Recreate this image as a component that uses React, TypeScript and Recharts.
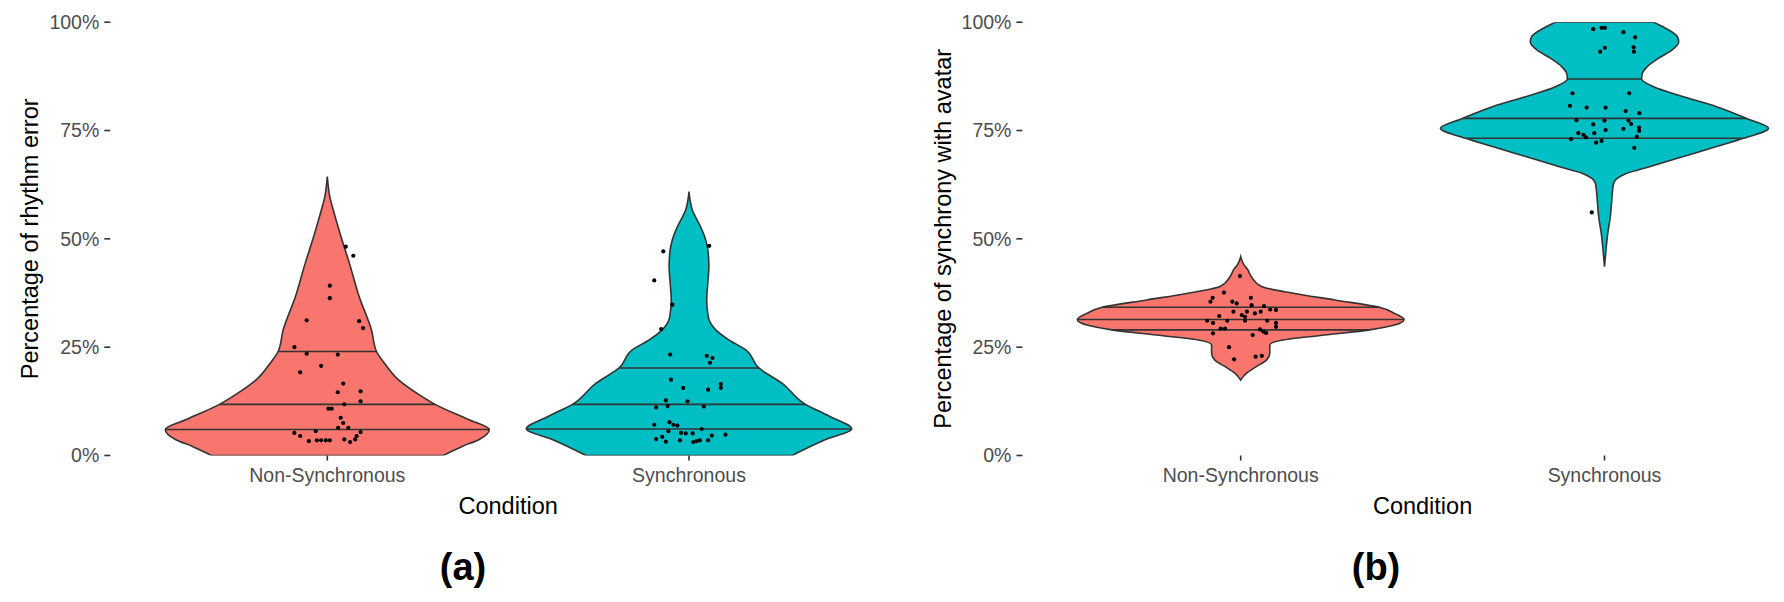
import { ScatterChart, Scatter, XAxis, YAxis, Curve } from "recharts";

const conditions = ["Non-Synchronous", "Synchronous"];
const yTicks = [0, 0.25, 0.5, 0.75, 1];

const RED = "#F8766D";
const TEAL = "#00BFC4";
const INK = "#333333";

// (a) rhythm error – violin outline: level -> half width (category units)
const errNonSyncLevels = [0.644, 0.597, 0.559, 0.502, 0.444, 0.367, 0.29, 0.24, 0.214, 0.175, 0.137, 0.118, 0.083, 0.06, 0.037, 0.021, 0];
const errNonSyncWidths = [0, 0.007, 0.019, 0.039, 0.061, 0.088, 0.122, 0.136, 0.157, 0.196, 0.26, 0.298, 0.39, 0.448, 0.42, 0.373, 0.32];
const errNonSyncQuant = [0.24, 0.118, 0.06];
const errNonSyncQuantW = [0.136, 0.298, 0.448];
const errNonSyncJitter = [0.051, 0.072, 0.007, 0.007, -0.057, 0.088, 0.099, -0.091, -0.057, 0.029, -0.075, -0.017, 0.044, 0.029, 0.092, 0.092, 0.047, 0.003, 0.012, 0.037, 0.044, 0.03, 0.058, 0.092, -0.091, -0.075, -0.032, -0.051, -0.029, -0.017, -0.004, 0.007, 0.047, 0.063, 0.077, 0.081];
const errNonSyncValues = [0.482, 0.461, 0.392, 0.363, 0.312, 0.31, 0.294, 0.25, 0.235, 0.233, 0.192, 0.207, 0.166, 0.146, 0.148, 0.125, 0.118, 0.108, 0.108, 0.087, 0.075, 0.064, 0.064, 0.054, 0.052, 0.045, 0.056, 0.033, 0.035, 0.035, 0.035, 0.035, 0.037, 0.031, 0.037, 0.045];

const errSyncLevels = [0.609, 0.567, 0.528, 0.498, 0.475, 0.436, 0.398, 0.359, 0.321, 0.29, 0.267, 0.244, 0.202, 0.167, 0.118, 0.091, 0.061, 0.037, 0];
const errSyncWidths = [0, 0.009, 0.032, 0.046, 0.052, 0.055, 0.052, 0.049, 0.053, 0.074, 0.11, 0.157, 0.193, 0.257, 0.322, 0.387, 0.45, 0.378, 0.285];
const errSyncQuant = [0.202, 0.118, 0.061];
const errSyncQuantW = [0.193, 0.322, 0.45];
const errSyncJitter = [-0.071, 0.056, -0.096, -0.046, -0.077, -0.052, 0.049, 0.065, 0.058, -0.05, -0.016, 0.053, 0.088, 0.088, -0.064, -0.004, -0.091, -0.059, 0.041, -0.096, -0.054, -0.043, -0.032, 0.035, -0.057, -0.022, 0.01, 0.063, 0.101, -0.091, -0.074, -0.064, -0.025, 0.012, 0.021, 0.03, 0.053, -0.009];
const errSyncValues = [0.471, 0.484, 0.404, 0.348, 0.292, 0.233, 0.23, 0.225, 0.214, 0.175, 0.156, 0.152, 0.165, 0.156, 0.127, 0.125, 0.111, 0.114, 0.113, 0.071, 0.077, 0.071, 0.069, 0.061, 0.056, 0.052, 0.051, 0.046, 0.048, 0.038, 0.043, 0.032, 0.035, 0.031, 0.033, 0.035, 0.035, 0.051];

// (b) synchrony with avatar
const synNonSyncLevels = [0.459, 0.443, 0.428, 0.413, 0.39, 0.374, 0.359, 0.342, 0.328, 0.314, 0.301, 0.29, 0.278, 0.266, 0.255, 0.236, 0.22, 0.205, 0.19, 0.174];
const synNonSyncWidths = [0, 0.007, 0.02, 0.029, 0.057, 0.148, 0.258, 0.381, 0.423, 0.449, 0.423, 0.354, 0.231, 0.112, 0.08, 0.08, 0.071, 0.043, 0.016, 0];
const synNonSyncQuant = [0.342, 0.314, 0.29];
const synNonSyncQuantW = [0.381, 0.449, 0.354];
const synNonSyncJitter = [-0.002, -0.077, -0.046, -0.083, -0.023, -0.011, 0.028, 0.03, 0.064, 0.097, 0.055, -0.02, 0.017, 0.003, -0.059, 0.081, -0.092, -0.076, -0.037, 0.012, 0.073, 0.097, 0.097, -0.055, -0.043, 0.053, 0.062, -0.076, 0.033, 0.07, -0.032, -0.018, 0.041, 0.058, 0.039, 0.012];
const synNonSyncValues = [0.414, 0.364, 0.376, 0.355, 0.355, 0.351, 0.364, 0.347, 0.345, 0.336, 0.332, 0.332, 0.332, 0.324, 0.322, 0.337, 0.311, 0.306, 0.311, 0.311, 0.311, 0.306, 0.297, 0.293, 0.293, 0.291, 0.286, 0.282, 0.278, 0.283, 0.25, 0.222, 0.228, 0.23, 0.328, 0.32];

const synSyncLevels = [1, 0.99, 0.967, 0.955, 0.936, 0.917, 0.897, 0.882, 0.869, 0.851, 0.828, 0.805, 0.778, 0.755, 0.732, 0.713, 0.69, 0.667, 0.651, 0.628, 0.59, 0.551, 0.513, 0.474, 0.436];
const synSyncWidths = [0.135, 0.159, 0.2, 0.204, 0.186, 0.149, 0.117, 0.104, 0.102, 0.135, 0.217, 0.308, 0.39, 0.451, 0.382, 0.308, 0.217, 0.126, 0.06, 0.025, 0.02, 0.016, 0.009, 0.004, 0];
const synSyncQuant = [0.869, 0.778, 0.732];
const synSyncQuantW = [0.102, 0.39, 0.382];
const synSyncJitter = [-0.031, -0.008, 0.001, 0.052, 0.084, -0.012, 0.001, 0.08, 0.081, -0.088, 0.068, -0.095, -0.049, 0.003, 0.058, 0.096, -0.077, 0, 0.066, 0.073, -0.031, 0.095, 0.003, 0.052, -0.072, -0.058, -0.028, 0.089, -0.092, -0.051, -0.023, -0.008, 0.082, -0.035, 0.095];
const synSyncValues = [0.984, 0.987, 0.987, 0.977, 0.965, 0.932, 0.941, 0.942, 0.932, 0.836, 0.836, 0.807, 0.803, 0.803, 0.795, 0.79, 0.774, 0.773, 0.773, 0.765, 0.764, 0.757, 0.751, 0.754, 0.744, 0.74, 0.744, 0.736, 0.73, 0.734, 0.722, 0.726, 0.71, 0.561, 0.749];

type Violin = {
  center: number;
  fill: string;
  levels: number[];
  widths: number[];
  quant: number[];
  quantW: number[];
  jitter: number[];
  values: number[];
};

const errorViolins: Violin[] = [
  { center: 1, fill: RED, levels: errNonSyncLevels, widths: errNonSyncWidths, quant: errNonSyncQuant, quantW: errNonSyncQuantW, jitter: errNonSyncJitter, values: errNonSyncValues },
  { center: 2, fill: TEAL, levels: errSyncLevels, widths: errSyncWidths, quant: errSyncQuant, quantW: errSyncQuantW, jitter: errSyncJitter, values: errSyncValues },
];

const synchronyViolins: Violin[] = [
  { center: 1, fill: RED, levels: synNonSyncLevels, widths: synNonSyncWidths, quant: synNonSyncQuant, quantW: synNonSyncQuantW, jitter: synNonSyncJitter, values: synNonSyncValues },
  { center: 2, fill: TEAL, levels: synSyncLevels, widths: synSyncWidths, quant: synSyncQuant, quantW: synSyncQuantW, jitter: synSyncJitter, values: synSyncValues },
];

// right edge top->bottom, then left edge bottom->top
function outline(v: Violin) {
  const right = v.levels.map((y, i) => ({ x: v.center + v.widths[i], y }));
  const left = v.levels.map((y, i) => ({ x: v.center - v.widths[i], y })).reverse();
  return [...right, ...left];
}

// draws the violin body as a smooth area between its two edges
const violinBody = (fill: string) => (p: any) => {
  const pts = p.points;
  const n = pts.length / 2;
  const right = pts.slice(0, n);
  const left = pts.slice(n).reverse();
  return (
    <Curve
      points={right}
      baseLine={left}
      layout="vertical"
      type="monotone"
      fill={fill}
      stroke={INK}
      strokeWidth={1.6}
    />
  );
};

const noMarker = () => <g />;
const dot = (p: any) => <circle cx={p.cx} cy={p.cy} r={2.1} fill="#000" />;

function violinSeries(v: Violin, key: string) {
  const out = [
    <Scatter
      key={key + "-body"}
      data={outline(v)}
      shape={noMarker}
      line={violinBody(v.fill)}
      isAnimationActive={false}
      legendType="none"
    />,
  ];
  v.quant.forEach((q, i) => {
    out.push(
      <Scatter
        key={key + "-q" + i}
        data={[
          { x: v.center - v.quantW[i], y: q },
          { x: v.center + v.quantW[i], y: q },
        ]}
        shape={noMarker}
        line={{ stroke: INK, strokeWidth: 1.6 }}
        isAnimationActive={false}
        legendType="none"
      />
    );
  });
  out.push(
    <Scatter
      key={key + "-pts"}
      data={v.values.map((y, i) => ({ x: v.center + v.jitter[i], y }))}
      shape={dot}
      isAnimationActive={false}
      legendType="none"
    />
  );
  return out;
}

const tickStyle = { fill: "#4D4D4D", fontSize: 19.5 };
const tickLineStyle = { stroke: INK, strokeWidth: 1.6 };

function Panel({
  left,
  width,
  axisWidth,
  yLabel,
  yLabelOffset,
  violins,
}: {
  left: number;
  width: number;
  axisWidth: number;
  yLabel: string;
  yLabelOffset: number;
  violins: Violin[];
}) {
  return (
    <div style={{ position: "absolute", left, top: 0 }}>
      <ScatterChart width={width} height={602} margin={{ top: 22.2, right: 0, bottom: 86.5, left: 0 }}>
        <XAxis
          type="number"
          dataKey="x"
          domain={[0.4, 2.6]}
          ticks={[1, 2]}
          interval={0}
          tickFormatter={(v: number) => conditions[v - 1]}
          tick={tickStyle}
          tickLine={tickLineStyle}
          tickSize={5}
          tickMargin={8}
          axisLine={false}
          height={60}
          allowDataOverflow
          label={{ value: "Condition", position: "insideTop", offset: 41.5, fill: "#000", fontSize: 23.5 }}
        />
        <YAxis
          type="number"
          dataKey="y"
          domain={[0, 1]}
          ticks={yTicks}
          interval={0}
          tickFormatter={(v: number) => `${Math.round(v * 100)}%`}
          tick={tickStyle}
          tickLine={tickLineStyle}
          tickSize={6}
          tickMargin={5}
          axisLine={false}
          width={axisWidth}
          allowDataOverflow
          label={{
            value: yLabel,
            angle: -90,
            position: "insideLeft",
            offset: yLabelOffset,
            fill: "#000",
            fontSize: 23.5,
            style: { textAnchor: "middle" },
          }}
        />
        {violins.flatMap((v, i) => violinSeries(v, "v" + i))}
      </ScatterChart>
    </div>
  );
}

const captionStyle: React.CSSProperties = {
  position: "absolute",
  top: 548,
  width: 100,
  textAlign: "center",
  fontSize: 38,
  fontWeight: "bold",
  lineHeight: 1,
  color: "#000",
};

export default function App() {
  return (
    <div
      style={{
        position: "absolute",
        left: 0,
        top: 0,
        width: 1784,
        height: 602,
        overflow: "hidden",
        background: "#fff",
        fontFamily: '"Liberation Sans", Arial, sans-serif',
      }}
    >
      <Panel left={0} width={906} axisWidth={110.3} yLabel="Percentage of rhythm error" yLabelOffset={29.5} violins={errorViolins} />
      <Panel left={900} width={922.8} axisWidth={122.4} yLabel="Percentage of synchrony with avatar" yLabelOffset={43} violins={synchronyViolins} />
      <div style={{ ...captionStyle, left: 413 }}>(a)</div>
      <div style={{ ...captionStyle, left: 1326 }}>(b)</div>
    </div>
  );
}
